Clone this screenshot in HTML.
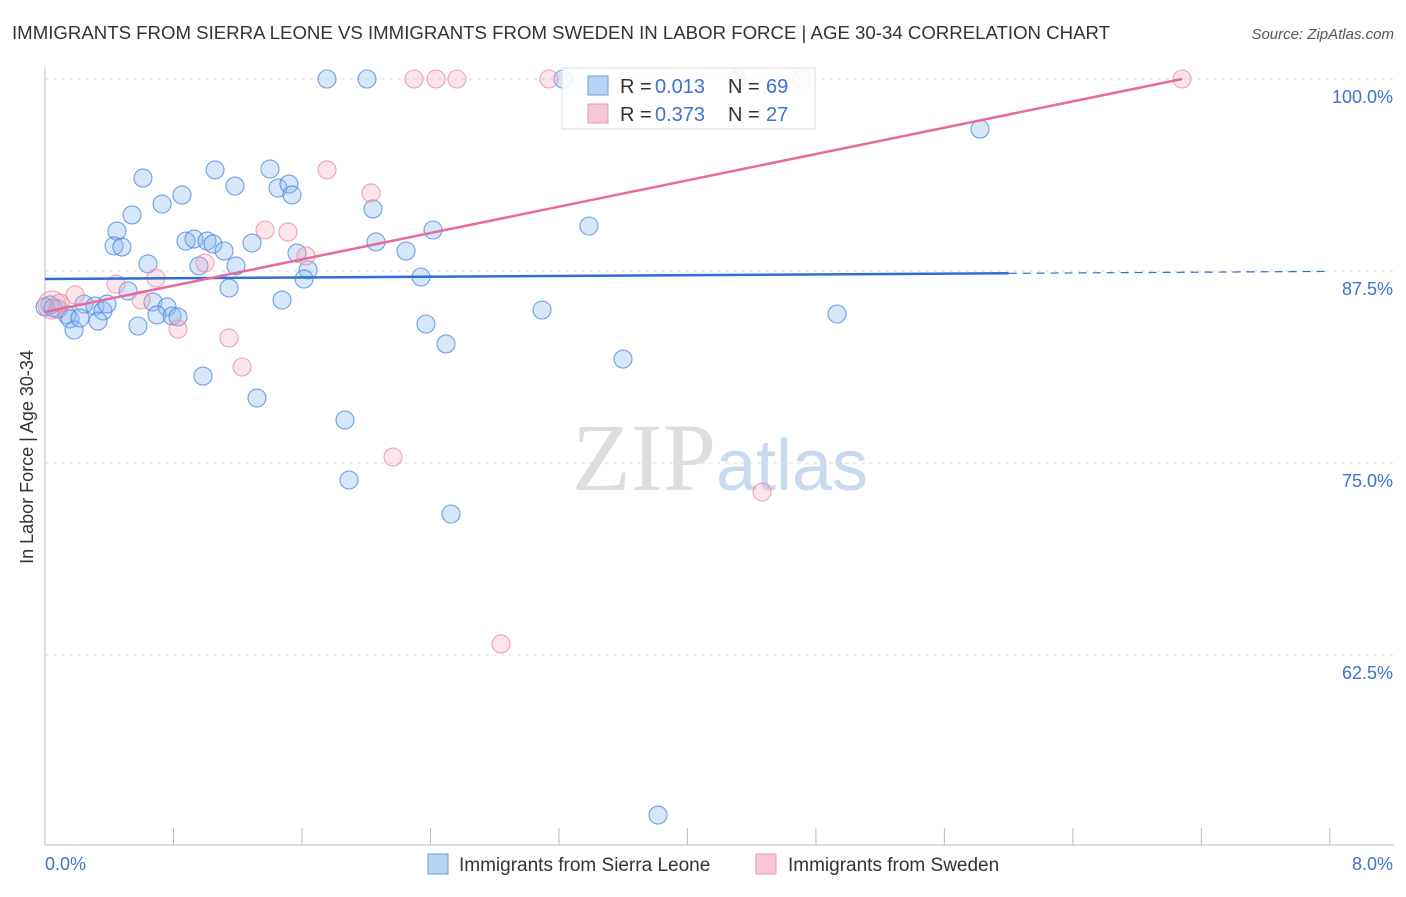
<!DOCTYPE html>
<html><head><meta charset="utf-8"><style>
body{margin:0;background:#fff;font-family:"Liberation Sans",sans-serif}
svg text{font-family:"Liberation Sans",sans-serif}
</style></head><body>
<svg id="chart" width="1406" height="892" xmlns="http://www.w3.org/2000/svg">
<text x="12" y="39" font-size="18" fill="#333" textLength="1098" lengthAdjust="spacingAndGlyphs">IMMIGRANTS FROM SIERRA LEONE VS IMMIGRANTS FROM SWEDEN IN LABOR FORCE | AGE 30-34 CORRELATION CHART</text>
<text x="1394" y="39" font-size="15" fill="#555" text-anchor="end" font-style="italic">Source: ZipAtlas.com</text>
<text x="720" y="490" font-size="96" text-anchor="middle" fill="#ddd" style="font-family:'Liberation Serif',serif">ZIP<tspan fill="#c9d9ef" style="font-family:'Liberation Sans',sans-serif" font-size="72">atlas</tspan></text>
<g id="grid"></g><g id="axes"></g><g id="pts"></g><g id="lines"></g>
<text transform="translate(33,457) rotate(-90)" font-size="18" fill="#333" text-anchor="middle">In Labor Force | Age 30-34</text>
<g>
<rect x="562" y="68" width="253" height="61" fill="rgba(255,255,255,0.85)" stroke="#ddd"/>
<rect x="588" y="76" width="20" height="19" fill="#b8d3f5" stroke="#6a9fe0"/>
<rect x="588" y="104" width="20" height="19" fill="#f8c8d6" stroke="#ec96b2"/>
<text x="620" y="93" font-size="20" fill="#333">R =</text><text x="655" y="93" font-size="20" fill="#3b73d1">0.013</text>
<text x="728" y="93" font-size="20" fill="#333">N =</text><text x="766" y="93" font-size="20" fill="#3b73d1">69</text>
<text x="620" y="121" font-size="20" fill="#333">R =</text><text x="655" y="121" font-size="20" fill="#3b73d1">0.373</text>
<text x="728" y="121" font-size="20" fill="#333">N =</text><text x="766" y="121" font-size="20" fill="#3b73d1">27</text>
</g>
<g>
<rect x="428" y="854" width="20" height="20" fill="#b8d3f5" stroke="#6a9fe0"/>
<text x="459" y="871" font-size="19" fill="#333">Immigrants from Sierra Leone</text>
<rect x="756" y="854" width="20" height="20" fill="#f8c8d6" stroke="#ec96b2"/>
<text x="788" y="871" font-size="19" fill="#333">Immigrants from Sweden</text>
</g>
</svg>
<script>
const blueX=[1.756,2.005,3.225,4.309,5.822,0.610,1.059,1.401,1.183,0.853,0.729,1.451,1.519,1.538,2.042,0.542,0.448,0.430,0.479,0.878,0.928,1.009,1.046,1.115,1.289,2.061,2.416,3.387,2.248,0.641,0.959,1.189,1.569,1.638,1.613,2.341,1.146,0.517,1.476,0.243,0.311,0.361,0.386,0.672,0.760,0.697,0.791,0.828,0.031,0.081,0.137,0.156,0.181,0.330,0.579,2.372,3.095,4.932,2.497,3.599,0.984,1.320,1.868,1.893,2.528,3.817,0,0.050,0.218];
const blueY=[100,100,100,100,96.74,93.55,94.08,94.14,93.03,92.45,91.86,92.90,93.16,92.45,91.54,91.15,90.10,89.13,89.06,89.45,89.58,89.45,89.26,88.80,89.32,89.39,90.17,90.43,88.80,87.96,87.83,87.83,88.67,87.57,86.98,87.11,86.39,86.20,85.61,85.35,85.22,84.90,85.35,85.48,85.16,84.64,84.57,84.51,85.29,85.03,84.64,84.38,83.66,84.24,83.92,84.05,84.96,84.70,82.75,81.77,80.66,79.23,77.80,73.89,71.68,52.08,85.16,85.09,84.44];
const pinkX=[2.298,2.435,2.565,3.138,4.714,7.080,1.756,2.030,1.370,1.513,1.625,0.996,0.442,0.691,0.187,0.598,0.044,0.828,1.146,1.227,2.167,4.465,2.839,0.093];
const pinkY=[100,100,100,100,100,100,94.08,92.58,90.17,90.04,88.48,88.02,86.65,87.04,85.94,85.61,85.29,83.72,83.14,81.25,75.39,73.11,63.22,85.42];
const yTicks=[100,87.5,75,62.5];
const yTickLabels=["100.0%","87.5%","75.0%","62.5%"];
const blueTrend=[86.98,87.35]; // at x=0 and x=6
const pinkTrend=[84.83,100];   // at x=0 and x=7.08
const X=v=>45+v*160.6, Y=v=>79+(100-v)*15.36;
const NS="http://www.w3.org/2000/svg";
function mk(p,t,a){const e=document.createElementNS(NS,t);for(const k in a)e.setAttribute(k,a[k]);document.getElementById(p).appendChild(e);return e;}
yTicks.forEach((t,i)=>{
 const l=mk('grid','line',{x1:45,x2:1394,y1:Y(t),y2:Y(t),stroke:'#ddd','stroke-dasharray':'4,4'});
 
 
 const tx=mk('axes','text',{x:1393,y:Y(t)+24,'font-size':18,fill:'#3b73d1','text-anchor':'end'});
 tx.textContent=yTickLabels[i];
 
 
});
mk('axes','line',{x1:45,x2:45,y1:68,y2:845,stroke:'#bbb'});
mk('axes','line',{x1:45,x2:1394,y1:845,y2:845,stroke:'#bbb'});
for(let i=0;i<=10;i++){const t=mk('axes','line',{x1:X(i*0.8),x2:X(i*0.8),y1:828,y2:845,stroke:'#bbb'});}
const a=mk('axes','text',{x:45,y:870,'font-size':18,fill:'#3b73d1'});a.textContent='0.0%';
const b=mk('axes','text',{x:1393,y:870,'font-size':18,fill:'#3b73d1','text-anchor':'end'});b.textContent='8.0%';
blueX.forEach((x,i)=>{const c=mk('pts','circle',{cx:X(x),cy:Y(blueY[i]),r:9,fill:'rgba(140,185,240,0.35)',stroke:'rgba(70,130,220,0.75)','stroke-width':1.1});
 
 });
pinkX.forEach((x,i)=>{const c=mk('pts','circle',{cx:X(x),cy:Y(pinkY[i]),r:i==16?14:9,fill:'rgba(245,165,190,0.3)',stroke:'rgba(235,140,170,0.8)','stroke-width':1.1});
 
 });
const bl=mk('lines','line',{x1:X(0),y1:Y(blueTrend[0]),x2:X(6),y2:Y(blueTrend[1]),stroke:'#2f6fd0','stroke-width':2.5});

const slope=(blueTrend[1]-blueTrend[0])/6;
const bd=mk('lines','line',{x1:X(6),y1:Y(blueTrend[1]),x2:X(8),y2:Y(blueTrend[0]+slope*8),stroke:'#2f6fd0','stroke-width':1.2,'stroke-dasharray':'8,6'});

const pl=mk('lines','line',{x1:X(0),y1:Y(pinkTrend[0]),x2:X(7.08),y2:Y(pinkTrend[1]),stroke:'#e8699a','stroke-width':2.5});

</script>
</body></html>
